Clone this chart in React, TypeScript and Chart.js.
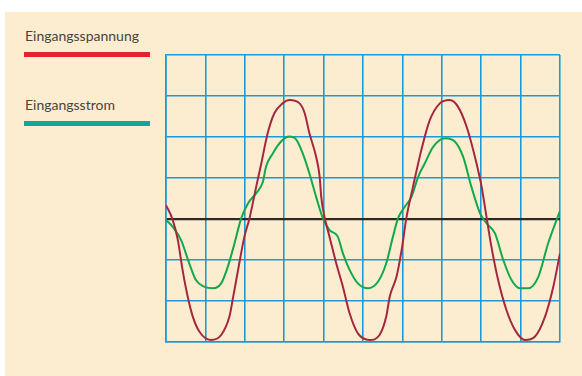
import React, { useEffect, useRef } from "react";
import { Chart, registerables } from "chart.js";

Chart.register(...registerables);

const legendLabels = ["Eingangsspannung", "Eingangsstrom"];

// Eingangsspannung (red)
const voltageX = [0, 0.17, 0.3, 0.42, 0.55, 0.68, 0.85, 1.14, 1.4, 1.61, 1.69, 1.86, 1.99, 2.12, 2.29, 2.42, 2.58, 2.75, 2.96, 3.13, 3.39, 3.52, 3.64, 3.81, 3.9, 3.94, 4.03, 4.15, 4.32, 4.49, 4.66, 4.87, 5.17, 5.42, 5.59, 5.68, 5.85, 5.98, 6.1, 6.27, 6.48, 6.69, 6.95, 7.2, 7.41, 7.63, 7.84, 8.01, 8.14, 8.26, 8.43, 8.64, 8.86, 9.11, 9.36, 9.62, 9.83, 10];
const voltageY = [0.34, -0.02, -0.51, -1.24, -1.89, -2.38, -2.75, -2.95, -2.83, -2.38, -1.98, -1.08, -0.43, 0.02, 0.79, 1.36, 2.09, 2.58, 2.82, 2.9, 2.82, 2.58, 2.09, 1.52, 1.03, 0.54, 0.02, -0.43, -1.08, -1.65, -2.3, -2.79, -2.95, -2.83, -2.38, -1.89, -1.41, -0.76, 0.02, 0.79, 1.68, 2.4, 2.82, 2.9, 2.74, 2.25, 1.52, 0.79, 0.02, -0.68, -1.49, -2.22, -2.71, -2.95, -2.87, -2.38, -1.65, -0.84];

// Eingangsstrom (green)
const currentX = [0, 0.17, 0.38, 0.59, 0.76, 0.97, 1.19, 1.4, 1.57, 1.74, 1.91, 2.08, 2.29, 2.46, 2.54, 2.71, 2.92, 3.13, 3.31, 3.47, 3.64, 3.81, 3.98, 4.15, 4.36, 4.49, 4.66, 4.87, 5.13, 5.38, 5.59, 5.76, 5.89, 6.06, 6.23, 6.4, 6.57, 6.78, 7.08, 7.33, 7.54, 7.75, 7.97, 8.14, 8.35, 8.56, 8.77, 8.98, 9.19, 9.45, 9.7, 10];
const currentY = [-0.02, -0.19, -0.51, -1.08, -1.49, -1.65, -1.69, -1.57, -1.16, -0.59, 0.02, 0.38, 0.63, 0.91, 1.28, 1.6, 1.89, 2.01, 1.93, 1.6, 1.11, 0.54, 0.02, -0.27, -0.43, -0.84, -1.24, -1.57, -1.69, -1.53, -1.08, -0.43, 0.02, 0.3, 0.54, 1.03, 1.36, 1.76, 1.97, 1.89, 1.52, 0.79, 0.14, -0.11, -0.35, -1.0, -1.49, -1.69, -1.69, -1.41, -0.59, 0.2];

const xMin = 0, xMax = 10, yMin = -3, yMax = 4;

export default function App() {
  const ref = useRef<HTMLCanvasElement | null>(null);
  useEffect(() => {
    if (!ref.current) return;
    const chart = new Chart(ref.current, {
      type: "line",
      data: {
        datasets: [
          {
            label: legendLabels[0],
            data: voltageX.map((x, i) => ({ x, y: voltageY[i] })),
            borderColor: "#a3283f",
            borderWidth: 2,
            pointRadius: 0,
            cubicInterpolationMode: "monotone",
            fill: false,
          },
          {
            label: legendLabels[1],
            data: currentX.map((x, i) => ({ x, y: currentY[i] })),
            borderColor: "#10a84b",
            borderWidth: 2,
            pointRadius: 0,
            cubicInterpolationMode: "monotone",
            fill: false,
          },
        ],
      },
      options: {
        responsive: false,
        animation: false,
        layout: { padding: { left: 166, top: 55, right: 22, bottom: 34 } },
        plugins: { legend: { display: false }, tooltip: { enabled: false } },
        scales: {
          x: {
            type: "linear",
            min: xMin,
            max: xMax,
            ticks: { display: false, stepSize: 1 },
            grid: { color: "#1d9ad6", lineWidth: 1.6, drawTicks: false },
            border: { display: true, color: "#1d9ad6", width: 1.6 },
          },
          y: {
            type: "linear",
            min: yMin,
            max: yMax,
            ticks: { display: false, stepSize: 1 },
            grid: {
              color: (ctx: any) => (ctx.tick && ctx.tick.value === 0 ? "#2e2a28" : "#1d9ad6"),
              lineWidth: (ctx: any) => (ctx.tick && ctx.tick.value === 0 ? 2.2 : 1.6),
              drawTicks: false,
            },
            border: { display: true, color: "#1d9ad6", width: 1.6 },
          },
        },
      },
    });
    return () => chart.destroy();
  }, []);

  const textStyle: React.CSSProperties = {
    position: "absolute",
    left: 25,
    fontFamily: "Lato, 'Open Sans', sans-serif",
    fontSize: 14,
    color: "#4a423d",
    lineHeight: "18px",
    whiteSpace: "nowrap",
  };

  return (
    <div style={{ position: "fixed", left: 0, top: 0, width: 582, height: 376, background: "#ffffff" }}>
      <div style={{ position: "absolute", left: 5, top: 12, right: 0, bottom: 0, background: "#fdedd0" }} />
      <div style={{ ...textStyle, top: 26.5 }}>{legendLabels[0]}</div>
      <div style={{ position: "absolute", left: 24, top: 52, width: 126, height: 5, background: "#e8202b" }} />
      <div style={{ ...textStyle, top: 95.5 }}>{legendLabels[1]}</div>
      <div style={{ position: "absolute", left: 24, top: 121, width: 126, height: 5, background: "#0aa99c" }} />
      <canvas ref={ref} width={582} height={376} style={{ position: "absolute", left: 0, top: 0 }} />
    </div>
  );
}
